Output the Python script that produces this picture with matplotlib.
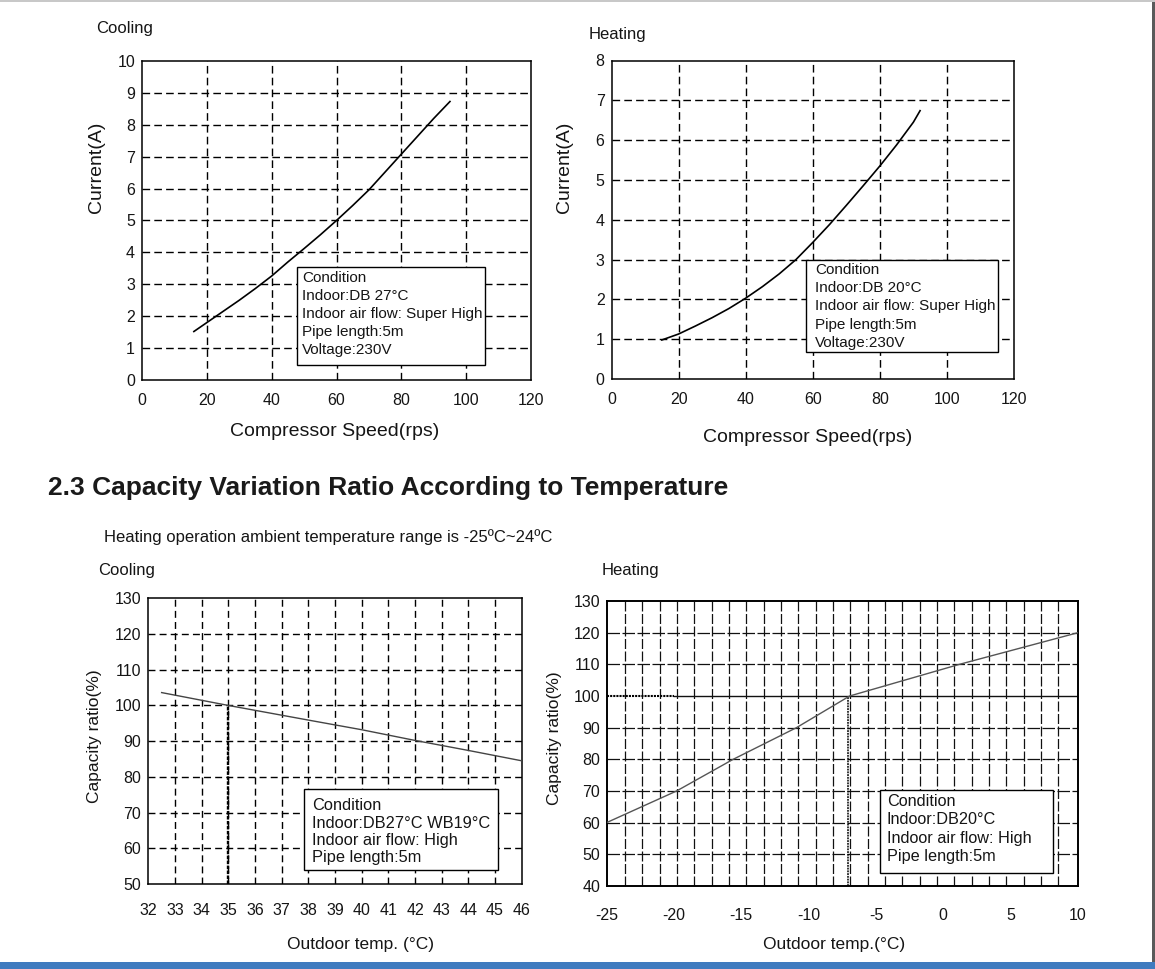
import numpy as np
import matplotlib
matplotlib.use("Agg")
import matplotlib.pyplot as plt
from matplotlib.patches import Rectangle

plt.rcParams['font.family'] = ['Liberation Sans', 'DejaVu Sans']
plt.rcParams['axes.unicode_minus'] = False

# Data
cool_speed = [16, 20, 25, 30, 35, 40, 45, 50, 55, 60, 65, 70, 75, 80, 85, 90, 95]
cool_current = [1.52, 1.80, 2.15, 2.50, 2.87, 3.26, 3.70, 4.12, 4.55, 5.0,
                5.47, 5.96, 6.52, 7.08, 7.64, 8.2, 8.73]

heat_speed = [15, 20, 25, 30, 35, 40, 45, 50, 55, 60, 65, 70, 75, 80, 85, 90, 92]
heat_current = [0.98, 1.13, 1.33, 1.54, 1.77, 2.03, 2.32, 2.64, 3.0, 3.43,
                3.88, 4.36, 4.85, 5.35, 5.88, 6.45, 6.74]

cool_temp = [32.5, 35, 38, 40, 42, 44, 46]
cool_ratio = [103.6, 100, 95.9, 93.2, 90.2, 87.4, 84.5]

heat_temp = [-25, -19.8, -15.6, -10.9, -6.95, 1.2, 10]
heat_ratio = [60, 70, 80, 90, 100, 110, 120]

speed_ticks = [0, 20, 40, 60, 80, 100, 120]
cool_cur_ticks = list(range(0, 11))
heat_cur_ticks = list(range(0, 9))
cool_temp_ticks = list(range(32, 47))
ratio_ticks_c = list(range(50, 131, 10))
heat_temp_ticks = [-25, -20, -15, -10, -5, 0, 5, 10]
ratio_ticks_h = list(range(40, 131, 10))

cond_cool = ["Condition", "Indoor:DB 27°C", "Indoor air flow: Super High",
             "Pipe length:5m", "Voltage:230V"]
cond_heat = ["Condition", "Indoor:DB 20°C", "Indoor air flow: Super High",
             "Pipe length:5m", "Voltage:230V"]
cond_cool2 = ["Condition", "Indoor:DB27°C WB19°C", "Indoor air flow: High",
              "Pipe length:5m"]
cond_heat2 = ["Condition", "Indoor:DB20°C", "Indoor air flow: High",
              "Pipe length:5m"]

W, H = 1155, 969
TXT = '#151515'
fig = plt.figure(figsize=(W / 100, H / 100), dpi=100)


def px_axes(l, t, r, b):
    return fig.add_axes([l / W, 1 - b / H, (r - l) / W, (b - t) / H])


def ftext(x, y, s, **kw):
    kw.setdefault('color', TXT)
    kw.setdefault('va', 'center')
    fig.text(x / W, 1 - y / H, s, **kw)


def style_axes(ax, xpad, ypad, frame_lw=1.1):
    ax.tick_params(length=0, labelsize=11.5, labelcolor=TXT)
    ax.tick_params(axis='x', pad=xpad)
    ax.tick_params(axis='y', pad=ypad)
    for sp in ax.spines.values():
        sp.set_linewidth(frame_lw)
        sp.set_color('black')


def cond_box(ax, x0, y0, x1, y1, lines, tx, ty, step, size):
    ax.add_patch(Rectangle((x0, y0), x1 - x0, y1 - y0, facecolor='white',
                           edgecolor='black', lw=1.0, zorder=4))
    for i, s in enumerate(lines):
        ftext(tx, ty + i * step, s, fontsize=size, ha='left')


# ---- Top-left: cooling current
ax1 = px_axes(142, 61, 531, 380)
ax1.set_xlim(0, 120)
ax1.set_ylim(0, 10)
ax1.set_xticks(speed_ticks)
ax1.set_yticks(cool_cur_ticks)
for v in speed_ticks[1:-1]:
    ax1.axvline(v, color='black', lw=1.0, dashes=(5.5, 3), zorder=1)
for v in cool_cur_ticks[1:-1]:
    ax1.axhline(v, color='black', lw=1.0, dashes=(5.5, 3), zorder=1)
ax1.plot(cool_speed, cool_current, color='black', lw=1.2, zorder=3)
cond_box(ax1, 47.8, 0.47, 105.8, 3.53, cond_cool, 302, 278, 18.1, 11)
style_axes(ax1, 9.5, 5)

# ---- Top-right: heating current
ax2 = px_axes(611.5, 60.5, 1014, 379)
ax2.set_xlim(0, 120)
ax2.set_ylim(0, 8)
ax2.set_xticks(speed_ticks)
ax2.set_yticks(heat_cur_ticks)
for v in speed_ticks[1:-1]:
    ax2.axvline(v, color='black', lw=1.0, dashes=(5.5, 3), zorder=1)
for v in heat_cur_ticks[1:-1]:
    ax2.axhline(v, color='black', lw=1.0, dashes=(5.5, 3), zorder=1)
ax2.plot(heat_speed, heat_current, color='black', lw=1.2, zorder=3)
cond_box(ax2, 58.0, 0.68, 115.2, 2.99, cond_heat, 815, 270, 18.2, 11)
style_axes(ax2, 9.5, 5)

# ---- Bottom-left: cooling capacity ratio
ax3 = px_axes(148.3, 598.3, 521.7, 884)
ax3.set_xlim(32, 46)
ax3.set_ylim(50, 130)
ax3.set_xticks(cool_temp_ticks)
ax3.set_yticks(ratio_ticks_c)
for v in cool_temp_ticks[1:-1]:
    ax3.axvline(v, color='black', lw=1.0, dashes=(5, 3), zorder=1)
for v in ratio_ticks_c[1:-1]:
    ax3.axhline(v, color='black', lw=1.0, dashes=(5, 3), zorder=1)
ax3.plot([35, 35], [50, 100], color='black', lw=1.7, dashes=(1.5, 0.6), zorder=2)
ax3.plot(cool_temp, cool_ratio, color='#444444', lw=1.0, zorder=3)
cond_box(ax3, 37.85, 53.9, 45.12, 76.5, cond_cool2, 312, 806, 17.3, 11.8)
style_axes(ax3, 14, 5)

# ---- Bottom-right: heating capacity ratio
ax4 = px_axes(606.5, 601, 1078, 886)
ax4.set_xlim(-25, 10)
ax4.set_ylim(40, 130)
ax4.set_xticks(heat_temp_ticks)
ax4.set_yticks(ratio_ticks_h)
for v in np.arange(-23.63, 9.7, 1.287):
    ax4.axvline(v, color='#111111', lw=0.9, dashes=(8, 2), zorder=1)
for v in ratio_ticks_h[1:-1]:
    if v == 100:
        ax4.plot([-20, 10], [v, v], color='#111111', lw=1.0, zorder=1)
        ax4.plot([-25, -20], [v, v], color='black', lw=1.5, dashes=(1, 0.5), zorder=1)
    else:
        ax4.axhline(v, color='#111111', lw=0.9, dashes=(10, 2), zorder=1)
ax4.plot([-7.05, -7.05], [40, 100], color='black', lw=1.1, dashes=(1.2, 0.6), zorder=2)
ax4.plot(heat_temp, heat_ratio, color='#555555', lw=1.0, zorder=3)
cond_box(ax4, -4.73, 44.2, 8.17, 70.2, cond_heat2, 887, 802, 18, 11.7)
style_axes(ax4, 16, 4.5, frame_lw=1.4)

# ---- Labels and titles
ftext(97, 167, "Current(A)", fontsize=14, rotation=90, ha='center')
ftext(565, 167, "Current(A)", fontsize=14, rotation=90, ha='center')
ftext(95, 736, "Capacity ratio(%)", fontsize=12.5, rotation=90, ha='center')
ftext(555, 738, "Capacity ratio(%)", fontsize=12.5, rotation=90, ha='center')

ftext(335, 432, "Compressor Speed(rps)", fontsize=14, ha='center')
ftext(808, 437, "Compressor Speed(rps)", fontsize=14, ha='center')
ftext(361, 945, "Outdoor temp. (°C)", fontsize=12.5, ha='center')
ftext(834, 945, "Outdoor temp.(°C)", fontsize=12.5, ha='center')

ftext(96, 28, "Cooling", fontsize=12, ha='left')
ftext(589, 34, "Heating", fontsize=12, ha='left')
ftext(98, 570, "Cooling", fontsize=12, ha='left')
ftext(602, 570, "Heating", fontsize=12, ha='left')

ftext(48, 488, "2.3 Capacity Variation Ratio According to Temperature",
      fontsize=19, fontweight='bold', ha='left', color='#1a1a1a')
ftext(104, 537, "Heating operation ambient temperature range is -25ºC~24ºC",
      fontsize=12, ha='left')

# screen edges of the screenshot
fig.add_artist(Rectangle((1152 / W, 7 / H), 3 / W, 1 - 7 / H,
                         transform=fig.transFigure, color='#5a5a5a', lw=0))
fig.add_artist(Rectangle((0, 1 - 2 / H), 1, 2 / H,
                         transform=fig.transFigure, color='#c8c8c8', lw=0))
fig.add_artist(Rectangle((0, 0), 1, 7 / H,
                         transform=fig.transFigure, color='#3f7bbf', lw=0))

fig.savefig("out.png", dpi=100)
